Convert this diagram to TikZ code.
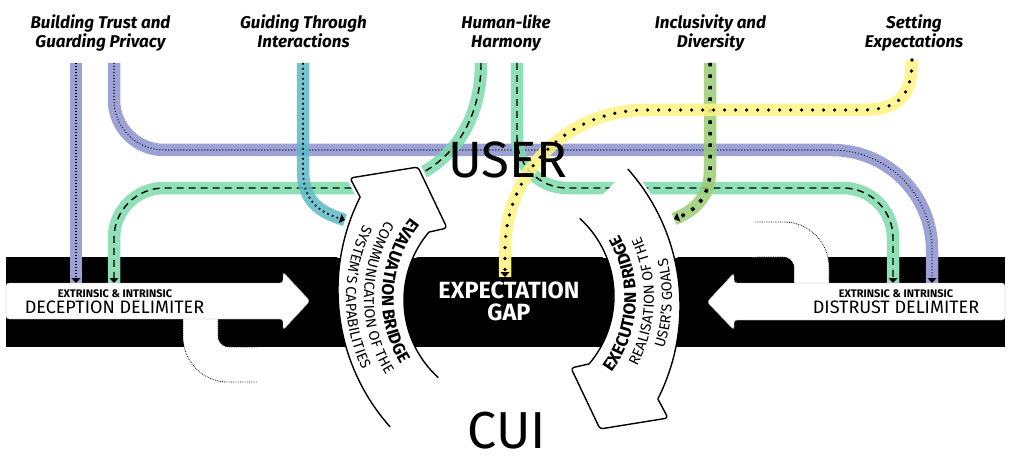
\documentclass[tikz,border=0pt]{standalone}
\usepackage{fontspec}
\setmainfont{Fira Sans}
\usetikzlibrary{arrows.meta,decorations.text,calc}

\definecolor{cpurple}{RGB}{140,146,207}
\definecolor{cgreen}{RGB}{125,218,170}
\definecolor{cteal}{RGB}{92,186,200}
\definecolor{colive}{RGB}{155,205,115}
\definecolor{cyellow}{RGB}{255,243,130}

\newcommand\bridgebold{\bfseries\fontsize{17}{17}\selectfont}
\newcommand\bridgelight{\fontsize{14.5}{14.5}\selectfont}

\tikzset{
  track/.style={line width=12.5pt, opacity=0.85},
  trackend/.style={-{Triangle[length=5pt,width=9pt]}},
  pdots/.style={line width=1.1pt, dash pattern=on 0.8pt off 2.2pt, trackend},
  gdash/.style={line width=1.4pt, dash pattern=on 7pt off 5pt, trackend},
  tdots/.style={line width=1.8pt, dash pattern=on 1.6pt off 3.4pt, trackend},
  odots/.style={line width=3.5pt, dash pattern=on 3.5pt off 8pt, trackend},
  ydots/.style={line width=3.6pt, line cap=round, dash pattern=on 0pt off 11pt, trackend},
  underlay/.style={white, line width=12.5pt},
  ghostfill/.style={white, line width=35pt, rounded corners=28pt},
  ghostline/.style={black, line width=0.9pt, dash pattern=on 0.7pt off 1.1pt},
  delim/.style={fill=white, draw=black!35, line width=0.4pt, rounded corners=3pt},
  bridge/.style={fill=white},
  bridgeline/.style={draw=black, line width=1.4pt, line join=round},
  halo/.style={draw=white, line width=6.5pt, line join=round},
  lab/.style={align=center, anchor=base, inner sep=0pt, font=\bfseries\itshape\fontsize{17}{19}\selectfont},
  smallcap/.style={anchor=base, inner sep=0pt, font=\bfseries\fontsize{11}{11}\selectfont},
  bigcap/.style={anchor=base, inner sep=0pt, font=\fontsize{18}{18}\selectfont},
}

\def\evalpath{(390.2,427.0) arc[start angle=138.3, end angle=206.8, radius=206]
  [rounded corners=3pt] -- (350,178) -- (418,167) -- (447,228) [sharp corners]
  -- (428.9,232.1) arc[start angle=220.3, end angle=132.3, radius=105]}

\def\pathPone{(p1s) -- (p1e)}
\def\pathPtwo{(p2s) -- (114,100) arc[start angle=180, end angle=90, radius=50] -- (832,150) arc[start angle=270, end angle=360, radius=100] -- (p2e)}
\def\pathGone{(g1s) .. controls (481,140) and (430,188) .. (360,188) -- (164,188) arc[start angle=270, end angle=180, radius=50] -- (g1e)}
\def\pathGtwo{(g2s) -- (517,138) arc[start angle=180, end angle=90, radius=50] -- (843,188) arc[start angle=270, end angle=360, radius=50] -- (g2e)}
\def\pathT{(ts) -- (303,170) .. controls (303,200) and (318,212) .. (te)}
\def\pathO{(os) -- (710,170) .. controls (710,195) and (697,210) .. (oe)}
\def\pathY{(ys) .. controls (912,100) and (895,110) .. (860,110) -- (645,110) arc[start angle=270, end angle=180, radius=140] -- (ye)}

\begin{document}
\begin{tikzpicture}[x=1pt, y=-1pt]
\useasboundingbox (0,0) rectangle (1024,465);

% centre of the bridge texts and track ends
\coordinate (C) at (509,298);
\coordinate (p1s) at (76,63);   \coordinate (p1e) at (76,283);
\coordinate (p2s) at (114,63);  \coordinate (p2e) at (932,283);
\coordinate (g1s) at (481,63);  \coordinate (g1e) at (114,283);
\coordinate (g2s) at (517,63);  \coordinate (g2e) at (893,283);
\coordinate (ts) at (303,63);   \coordinate (te) at (345,220);
\coordinate (os) at (710,63);   \coordinate (oe) at (674,219);
\coordinate (ys) at (912,60);   \coordinate (ye) at (505,277);

% black band
\fill[black] (6,257) rectangle (1005,347);

% ghost u-turns
\draw[ghostfill] (200.5,300) -- (200.5,364.5) -- (262,364.5);
\draw[ghostline, rounded corners=45pt] (183,319) -- (183,382) -- (258,382);
\draw[ghostline, rounded corners=11pt] (218,319) -- (218,347) -- (257,347);
\draw[ghostfill] (752,239.5) -- (811.5,239.5) -- (811.5,300);
\draw[ghostline, rounded corners=45pt] (755,222) -- (829,222) -- (829,283);
\draw[ghostline, rounded corners=11pt] (757,257) -- (794,257) -- (794,283);

% underlays where tracks enter the band
\draw[underlay] (76,256) -- (p1e);
\draw[underlay] (114,256) -- (g1e);
\draw[underlay] (893,256) -- (g2e);
\draw[underlay] (932,256) -- (p2e);
\draw[underlay] (505,256) -- (ye);

% tracks
\draw[track, cpurple] \pathPone;
\draw[pdots] \pathPone;
\draw[track, cpurple] \pathPtwo;
\draw[pdots] \pathPtwo;
\draw[track, cgreen] \pathGone;
\draw[gdash] \pathGone;
\draw[track, cgreen] \pathGtwo;
\draw[gdash] \pathGtwo;
\draw[track, cteal] \pathT;
\draw[tdots] \pathT;
\draw[track, colive] \pathO;
\draw[odots] \pathO;
\draw[track, cyellow] \pathY;
\draw[ydots] \pathY;

% halos of the bridges above the band
\begin{scope}
  \clip (0,0) rectangle (1024,257);
  \draw[halo] \evalpath;
  \begin{scope}[rotate around={180:(509,298)}]
    \draw[halo] \evalpath;
  \end{scope}
\end{scope}

% evaluation bridge
\fill[bridge] \evalpath -- cycle;
\draw[bridgeline] \evalpath;
% execution bridge
\begin{scope}[rotate around={180:(509,298)}]
  \fill[bridge] \evalpath -- cycle;
  \draw[bridgeline] \evalpath;
\end{scope}

% delimiter arrows
\filldraw[delim] (6,283) -- (283,283) -- (283,272) -- (310,301) -- (283,330) -- (283,319) -- (6,319) -- cycle;
\filldraw[delim] (1005,283) -- (734,283) -- (734,273) -- (707,302) -- (734,330) -- (734,320) -- (1005,320) -- cycle;

% bridge texts
\path[decorate, decoration={text along path, text={|\bridgebold|EVALUATION BRIDGE}, text align=center}]
  ($(C)+(244:127)$) arc[start angle=244, end angle=124, radius=127];
\path[decorate, decoration={text along path, text={|\bridgelight|COMMUNICATION OF THE}, text align=center}]
  ($(C)+(240:145)$) arc[start angle=240, end angle=120, radius=145];
\path[decorate, decoration={text along path, text={|\bridgelight|SYSTEM'S CAPABILITIES}, text align=center}]
  ($(C)+(240:163)$) arc[start angle=240, end angle=121, radius=163];

\path[decorate, decoration={text along path, text={|\bridgebold|EXECUTION BRIDGE}, text align=center}]
  ($(C)+(63:127)$) arc[start angle=63, end angle=-57, radius=127];
\path[decorate, decoration={text along path, text={|\bridgelight|REALISATION OF THE}, text align=center}]
  ($(C)+(61.5:145)$) arc[start angle=61.5, end angle=-58.5, radius=145];
\path[decorate, decoration={text along path, text={|\bridgelight|USER'S GOALS}, text align=center}]
  ($(C)+(62:163)$) arc[start angle=62, end angle=-58, radius=163];

% texts
\node[lab] (lbt) at (100.5,48) {Building Trust and\\Guarding Privacy};
\node[lab] (lgi) at (303.5,48) {Guiding Through\\Interactions};
\node[lab] (lhh) at (506,48) {Human-like\\Harmony};
\node[lab] (lid) at (710.5,48) {Inclusivity and\\Diversity};
\node[lab] (lse) at (914,48) {Setting\\Expectations};

\node[smallcap] (dx1) at (115,297.5) {EXTRINSIC \& INTRINSIC};
\node[bigcap] (dd1) at (114.5,313) {DECEPTION DELIMITER};
\node[smallcap] (dx2) at (896,297.5) {EXTRINSIC \& INTRINSIC};
\node[bigcap] (dd2) at (896,313) {DISTRUST DELIMITER};

\node[align=center, text=white, inner sep=0pt, font=\bfseries\fontsize{23.5}{21.5}\selectfont] (gap) at (509,301.5) {EXPECTATION\\GAP};

\node[anchor=base, inner sep=0pt, font=\fontsize{51}{51}\selectfont] (user) at (508,178) {USER};
\node[anchor=base, inner sep=0pt, font=\fontsize{52}{52}\selectfont] (cui) at (507,448) {CUI};
\end{tikzpicture}
\end{document}
